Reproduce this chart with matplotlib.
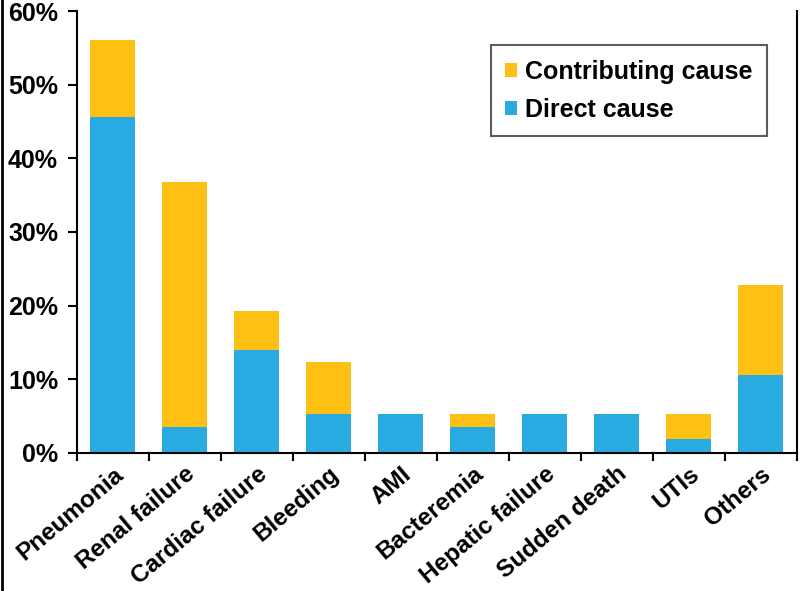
import matplotlib
matplotlib.use("Agg")
import matplotlib.pyplot as plt
from matplotlib.lines import Line2D
from matplotlib.ticker import FuncFormatter
import numpy as np

plt.rcParams['font.family'] = ['Liberation Sans', 'DejaVu Sans']
plt.rcParams['font.weight'] = 'bold'

causes = ["Pneumonia", "Renal failure", "Cardiac failure", "Bleeding", "AMI",
          "Bacteremia", "Hepatic failure", "Sudden death", "UTIs", "Others"]
direct = [45.6, 3.5, 14.0, 5.3, 5.3, 3.5, 5.3, 5.3, 1.8, 10.5]
contributing = [10.5, 33.3, 5.3, 7.0, 0.0, 1.8, 0.0, 0.0, 3.5, 12.3]

blue = "#29abe2"
orange = "#ffc014"

fig = plt.figure(figsize=(8, 5.91), dpi=100)
ax = fig.add_axes([0.096, 0.234, 0.9, 0.747])

x = np.arange(len(causes))
ax.bar(x, direct, width=0.63, color=blue, label="Direct cause")
ax.bar(x, contributing, width=0.63, bottom=direct, color=orange, label="Contributing cause")

ax.set_xlim(-0.5, len(causes) - 0.5)
ax.set_ylim(0, 60)
ax.set_yticks(np.arange(0, 61, 10))
ax.yaxis.set_major_formatter(FuncFormatter(lambda v, p: "%d%%" % v))

# ticks sit at the category boundaries, labels at the centres
ax.set_xticks(np.arange(-0.5, len(causes), 1.0))
ax.set_xticklabels([])
ax.set_xticks(x, minor=True)
ax.set_xticklabels(causes, minor=True, rotation=40, ha="right",
                   rotation_mode="anchor", fontsize=17.5, fontweight="bold")
ax.tick_params(axis="x", which="minor", length=0, pad=7)
ax.tick_params(axis="x", which="major", length=6, width=1.5, direction="out")
ax.tick_params(axis="y", length=6.5, width=1.5, direction="out", labelsize=18, pad=7)
for lbl in ax.get_yticklabels():
    lbl.set_fontweight("bold")

ax.spines["top"].set_visible(False)
for side in ["left", "bottom", "right"]:
    ax.spines[side].set_linewidth(1.5)

handles, labels = ax.get_legend_handles_labels()
leg = ax.legend(handles[::-1], labels[::-1], loc="upper right",
                bbox_to_anchor=(0.958, 0.923), borderaxespad=0,
                frameon=True, fancybox=False, edgecolor="#333333",
                handlelength=0.48, handleheight=0.45, handletextpad=0.3,
                borderpad=0.58, labelspacing=0.56,
                prop={"weight": "bold", "size": 18})
leg.get_frame().set_linewidth(1.5)

# thin dark border at the far left of the image
fig.add_artist(Line2D([0.003, 0.003], [0, 1], color="black", linewidth=2))

fig.savefig("out.png", dpi=100)
